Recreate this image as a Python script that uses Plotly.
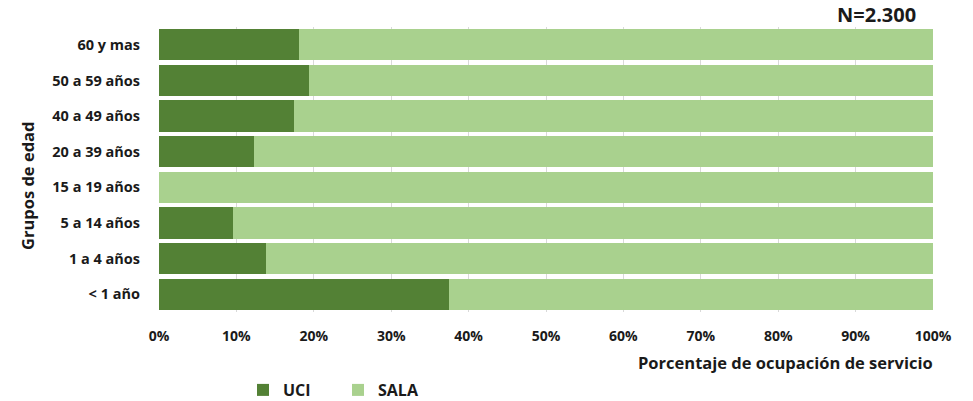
import plotly.graph_objects as go

categorias = ["< 1 año", "1 a 4 años", "5 a 14 años", "15 a 19 años",
              "20 a 39 años", "40 a 49 años", "50 a 59 años", "60 y mas"]
uci = [37.5, 13.8, 9.5, 0.0, 12.3, 17.4, 19.4, 18.1]
sala = [100 - v for v in uci]
tick_vals = [0, 10, 20, 30, 40, 50, 60, 70, 80, 90, 100]
tick_text = [f"{v}%" for v in tick_vals]

FONT = "Open Sans"
TXT = "#1a1a1a"
fig = go.Figure()
fig.add_trace(go.Bar(y=categorias, x=uci, name="UCI", orientation="h",
                     marker=dict(color="#538135", line=dict(width=0))))
fig.add_trace(go.Bar(y=categorias, x=sala, name="SALA", orientation="h",
                     marker=dict(color="#A9D18E", line=dict(width=0))))

fig.update_layout(
    barmode="stack", bargap=0.12,
    width=973, height=401,
    margin=dict(l=159, r=40, t=27, b=89, autoexpand=False),
    plot_bgcolor="white", paper_bgcolor="white",
    font=dict(family=FONT, size=13, color=TXT),
    xaxis=dict(range=[0, 100], tickvals=tick_vals, ticktext=tick_text,
               showgrid=True, gridcolor="#d9d9d9", zeroline=False, automargin=False,
               ticklabelstandoff=14,
               tickfont=dict(family=FONT, size=14, color=TXT, weight="bold")),
    yaxis=dict(showgrid=False, ticks="", ticklabelstandoff=18, automargin=False,
               tickfont=dict(family=FONT, size=14.5, color=TXT, weight="bold")),
    legend=dict(orientation="h", x=(243 - 159) / 774, y=(401 - 390) / 401,
                xref="paper", yref="container",
                xanchor="left", yanchor="middle",
                font=dict(family=FONT, size=16, color=TXT, weight="bold"),
                itemwidth=30, traceorder="normal", entrywidth=50),
    annotations=[
        dict(text="<b>N=2.300</b>", x=1.0, y=1.0, xref="paper", yref="paper",
             xanchor="right", yanchor="bottom", showarrow=False,
             xshift=-15, yshift=-3,
             font=dict(family=FONT, size=20, color=TXT)),
        dict(text="<b>Porcentaje de ocupación de servicio</b>", x=1.0, y=0,
             xref="paper", yref="paper", xanchor="right", yanchor="middle",
             showarrow=False, yshift=-50, xshift=2,
             font=dict(family=FONT, size=16.5, color=TXT)),
        dict(text="<b>Grupos de edad</b>", x=0, y=(312 - 186) / 285,
             xref="paper", yref="paper", xanchor="center", yanchor="middle",
             textangle=-90, showarrow=False, xshift=-132,
             font=dict(family=FONT, size=16.5, color=TXT)),
    ],
)
fig.write_html("out.html", config={"displayModeBar": False},
               post_script="document.body.style.margin='0px';")
